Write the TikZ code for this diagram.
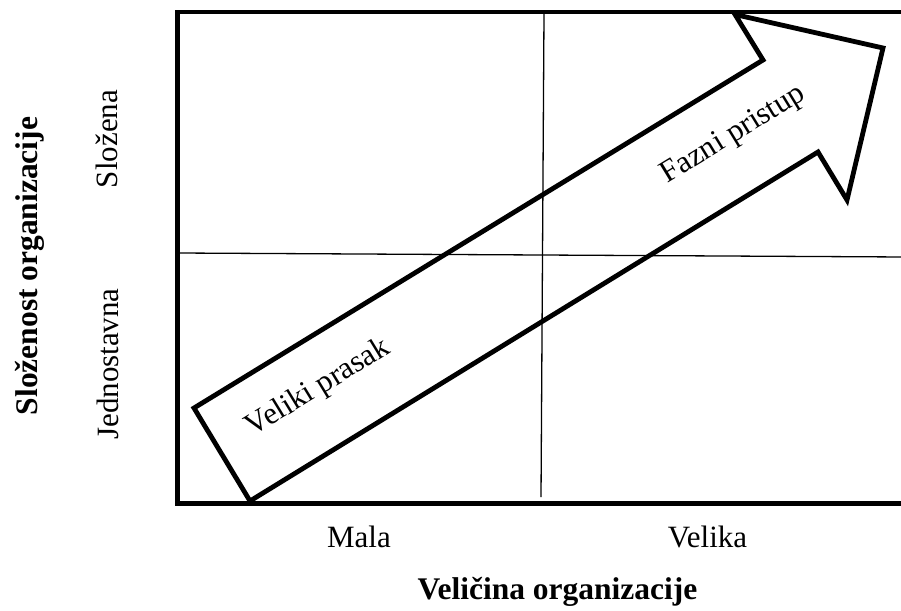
\documentclass[tikz,border=0pt]{standalone}
\usepackage{fontspec}
\setmainfont{Liberation Serif}
\begin{document}
\begin{tikzpicture}[x=1pt,y=-1pt,
  frame/.style={line width=4.8pt,line join=miter},
  midline/.style={line width=1.3pt},
  arrowshape/.style={line width=4.8pt,line join=miter},
  lbl/.style={font=\fontsize{31}{36}\selectfont,inner sep=0pt},
  bold lbl/.style={font=\fontsize{31.5}{36}\selectfont\bfseries,inner sep=0pt}]
\useasboundingbox (0,0) rectangle (901,610);
% frame
\coordinate (tr) at (905,12);
\coordinate (tl) at (177.5,12);
\coordinate (bl) at (177.5,503.5);
\coordinate (br) at (905,503.5);
\draw[frame] (tr) -- (tl) -- (bl) -- (br);
% quadrant lines
\coordinate (vt) at (544,14);
\coordinate (vb) at (541,497);
\coordinate (hl) at (178,253);
\coordinate (hr) at (905,257);
\draw[midline] (vt) -- (vb);
\draw[midline] (hl) -- (hr);
% arrow
\coordinate (a1) at (194,408);
\coordinate (a2) at (763,60);
\coordinate (a3) at (735,14.5);
\coordinate (a4) at (883,48);
\coordinate (a5) at (847,200);
\coordinate (a6) at (818,152);
\coordinate (a7) at (250,501);
\draw[arrowshape] (a1) -- (a2) -- (a3) -- (a4) -- (a5) -- (a6) -- (a7) -- cycle;
% arrow texts
\node[lbl,rotate=31.45] (vp) at (318.5,388) {Veliki prasak};
\node[lbl,rotate=31.45] (fp) at (733.5,135) {Fazni pristup};
% axis labels
\node[lbl,anchor=base] (mala) at (359,547) {Mala};
\node[lbl,anchor=base] (velika) at (707.5,547) {Velika};
\node[bold lbl,anchor=base] (xlab) at (557.5,599) {Veličina organizacije};
\node[lbl,anchor=base,rotate=90] (slozena) at (117.5,139) {Složena};
\node[lbl,anchor=base,rotate=90] (jedn) at (118.5,364) {Jednostavna};
\node[bold lbl,anchor=base,rotate=90] (ylab) at (37,266) {Složenost organizacije};
\end{tikzpicture}
\end{document}
